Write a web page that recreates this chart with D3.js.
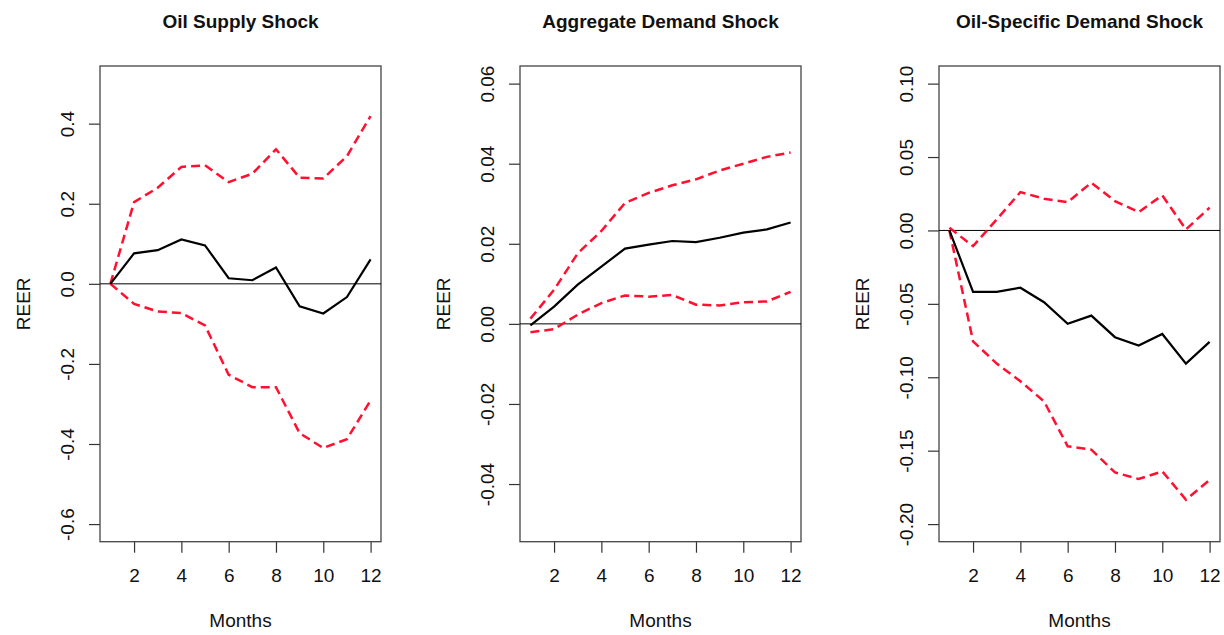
<!DOCTYPE html>
<html>
<head>
<meta charset="utf-8">
<script src="https://cdn.jsdelivr.net/npm/d3@7"></script>
<style>
  body { margin: 0; background: #fff; }
  svg text { font-family: "Liberation Sans", Arial, sans-serif; fill: #111; }
</style>
</head>
<body>
<svg id="chart" width="1224" height="635"></svg>
<script>
// impulse responses of REER, median with upper and lower bands
var months = [1, 2, 3, 4, 5, 6, 7, 8, 9, 10, 11, 12];
var xTicks = [2, 4, 6, 8, 10, 12];

var titles = ["Oil Supply Shock", "Aggregate Demand Shock", "Oil-Specific Demand Shock"];

var supplyMid   = [0, 0.076, 0.084, 0.111, 0.096, 0.014, 0.009, 0.041, -0.056, -0.074, -0.033, 0.061];
var supplyUpper = [0, 0.204, 0.240, 0.292, 0.296, 0.254, 0.275, 0.336, 0.265, 0.263, 0.319, 0.419];
var supplyLower = [0, -0.050, -0.069, -0.073, -0.104, -0.227, -0.258, -0.258, -0.373, -0.410, -0.388, -0.291];

var demandMid   = [-0.0004, 0.0043, 0.0098, 0.0143, 0.0188, 0.0198, 0.0207, 0.0204, 0.0215, 0.0228, 0.0236, 0.0253];
var demandUpper = [0.0013, 0.0085, 0.0176, 0.0232, 0.0302, 0.0327, 0.0346, 0.0361, 0.0383, 0.0400, 0.0417, 0.0428];
var demandLower = [-0.0021, -0.0013, 0.0023, 0.0052, 0.0071, 0.0068, 0.0072, 0.0048, 0.0046, 0.0054, 0.0056, 0.0080];

var oilMid   = [0, -0.0418, -0.0418, -0.0390, -0.0489, -0.0636, -0.0580, -0.0727, -0.0784, -0.0705, -0.0907, -0.0759];
var oilUpper = [0.0018, -0.0107, 0.0075, 0.0261, 0.0216, 0.0193, 0.0325, 0.0200, 0.0125, 0.0239, 0.0007, 0.0155];
var oilLower = [0, -0.0755, -0.0907, -0.1027, -0.1164, -0.1470, -0.1493, -0.1648, -0.1693, -0.1641, -0.1834, -0.1700];

var yLims = [[-0.6, 0.5], [-0.05, 0.06], [-0.2, 0.1]];
var yTicks = [
  [-0.6, -0.4, -0.2, 0, 0.2, 0.4],
  [-0.04, -0.02, 0, 0.02, 0.04, 0.06],
  [-0.2, -0.15, -0.1, -0.05, 0, 0.05, 0.1]
];

// plain hyphen for negatives, like base graphics
var loc = d3.formatLocale({decimal: ".", thousands: ",", grouping: [3], currency: ["", ""], minus: "-"});
var yFormats = [loc.format(".1f"), loc.format(".2f"), loc.format(".2f")];

var series = [
  [supplyMid, supplyUpper, supplyLower],
  [demandMid, demandUpper, demandLower],
  [oilMid, oilUpper, oilLower]
];

var lefts = [100, 520, 939];
var plotW = 281;
var plotTop = 66, plotBottom = 541.7;

var svg = d3.select("#chart");

lefts.forEach(function(left, p) {
  // R style 4% padding around the data range
  var xScale = d3.scaleLinear()
    .domain([1 - 0.44, 12 + 0.44])
    .range([left, left + plotW]);

  var lo = yLims[p][0], hi = yLims[p][1], pad = (hi - lo) * 0.04;
  var yScale = d3.scaleLinear()
    .domain([lo - pad, hi + pad])
    .range([plotBottom, plotTop]);

  var g = svg.append("g");

  // y axis
  var yAxis = d3.axisLeft(yScale)
    .tickValues(yTicks[p])
    .tickFormat(yFormats[p])
    .tickSize(11)
    .tickSizeOuter(0);

  var ya = g.append("g")
    .attr("transform", "translate(" + left + ",0)")
    .call(yAxis);
  ya.select(".domain").remove();
  ya.selectAll(".tick line").attr("stroke", "#333").attr("stroke-width", 1.2);
  ya.selectAll(".tick text")
    .attr("x", 0).attr("dy", 0)
    .attr("text-anchor", "middle")
    .attr("transform", "translate(-26,0) rotate(-90)")
    .style("font-size", "19px");

  // x axis
  var xAxis = d3.axisBottom(xScale)
    .tickValues(xTicks)
    .tickSize(11)
    .tickSizeOuter(0);

  var xa = g.append("g")
    .attr("transform", "translate(0," + plotBottom + ")")
    .call(xAxis);
  xa.select(".domain").remove();
  xa.selectAll(".tick line").attr("stroke", "#333").attr("stroke-width", 1.2);
  xa.selectAll(".tick text")
    .attr("y", 40).attr("dy", 0)
    .style("font-size", "19px");

  // plot box
  g.append("rect")
    .attr("x", left)
    .attr("y", plotTop)
    .attr("width", plotW)
    .attr("height", plotBottom - plotTop)
    .attr("fill", "none")
    .attr("stroke", "#444")
    .attr("stroke-width", 1.3);

  // zero line
  g.append("line")
    .attr("x1", left).attr("x2", left + plotW)
    .attr("y1", yScale(0)).attr("y2", yScale(0))
    .attr("stroke", "#000")
    .attr("stroke-width", 1);

  var line = d3.line()
    .x(function(d, i) { return xScale(months[i]); })
    .y(function(d) { return yScale(d); });

  // bands
  [series[p][1], series[p][2]].forEach(function(band) {
    g.append("path")
      .attr("d", line(band))
      .attr("fill", "none")
      .attr("stroke", "#ff1030")
      .attr("stroke-width", 2.5)
      .attr("stroke-dasharray", "9,5");
  });

  g.append("path")
    .attr("d", line(series[p][0]))
    .attr("fill", "none")
    .attr("stroke", "#000")
    .attr("stroke-width", 2.2);

  // titles and labels
  g.append("text")
    .attr("x", left + plotW / 2)
    .attr("y", 28)
    .attr("text-anchor", "middle")
    .style("font-size", "19px")
    .style("font-weight", "bold")
    .text(titles[p]);

  g.append("text")
    .attr("x", left + plotW / 2)
    .attr("y", 627)
    .attr("text-anchor", "middle")
    .style("font-size", "19px")
    .text("Months");

  g.append("text")
    .attr("transform", "translate(" + (left - 70) + "," + ((plotTop + plotBottom) / 2) + ") rotate(-90)")
    .attr("text-anchor", "middle")
    .style("font-size", "19px")
    .text("REER");
});
</script>
</body>
</html>
